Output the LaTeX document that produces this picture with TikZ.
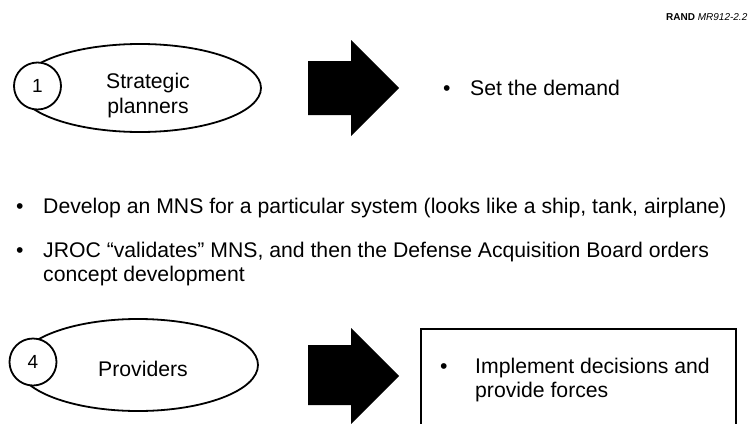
\documentclass[tikz,border=0pt]{standalone}
\usepackage{fontspec}
\setmainfont{Liberation Sans}
\usetikzlibrary{shapes.geometric}
\begin{document}
\begin{tikzpicture}[x=1pt,y=-1pt,
  big/.style={font=\fontsize{21.2}{24.5}\selectfont, inner sep=0pt},
  txt/.style={big, anchor=base west, align=left},
  ctxt/.style={big, anchor=base, align=center},
  oval/.style={draw, line width=1.8pt, ellipse, inner sep=0pt},
  numc/.style={draw, line width=1.8pt, circle, fill=white, inner sep=0pt, minimum size=47pt, font=\fontsize{19}{19}\selectfont},
  blk/.style={fill=black}]
\useasboundingbox (0,0) rectangle (749,423);
\clip (0,0) rectangle (749,423);
% header
\node[anchor=base west, inner sep=0pt, font=\fontsize{10}{12}\selectfont] (rand) at (666,20) {\textbf{RAND} \textit{MR912-2.2}};
% first row
\node[oval, minimum width=242pt, minimum height=88pt] (e1) at (140,88) {};
\node[numc] (c1) at (37.5,86) {1};
% multi-line nodes: base anchor = baseline of last line
\node[ctxt] (t1) at (148,113) {Strategic\\planners};
\fill[blk] (308,61) -- (351,61) -- (351,40) -- (399,88) -- (351,136) -- (351,115) -- (308,115) -- cycle;
\node[txt] (b1) at (443,95) {•};
\node[txt] (s1) at (470,95) {Set the demand};
% middle bullets
\node[txt] (b2) at (16,213) {•};
\node[txt] (s2) at (43,213) {Develop an MNS for a particular system (looks like a ship, tank, airplane)};
\node[txt] (b3) at (16,257) {•};
\node[txt] (s3) at (43,281.5) {JROC “validates” MNS, and then the Defense Acquisition Board orders\\concept development};
% second row
\node[oval, minimum width=240pt, minimum height=92pt] (e2) at (138,365) {};
\node[numc] (c2) at (33,362) {4};
\node[ctxt] (t2) at (143,376) {Providers};
\fill[blk] (308,345) -- (351,345) -- (351,328) -- (399,376) -- (351,424) -- (351,405) -- (308,405) -- cycle;
\node[draw, line width=1.8pt, anchor=north west, minimum width=315pt, minimum height=120pt, inner sep=0pt] (box) at (420,328) {};
\node[txt] (b4) at (440,373) {•};
\node[txt] (s4) at (475,397.5) {Implement decisions and\\provide forces};
\end{tikzpicture}
\end{document}
